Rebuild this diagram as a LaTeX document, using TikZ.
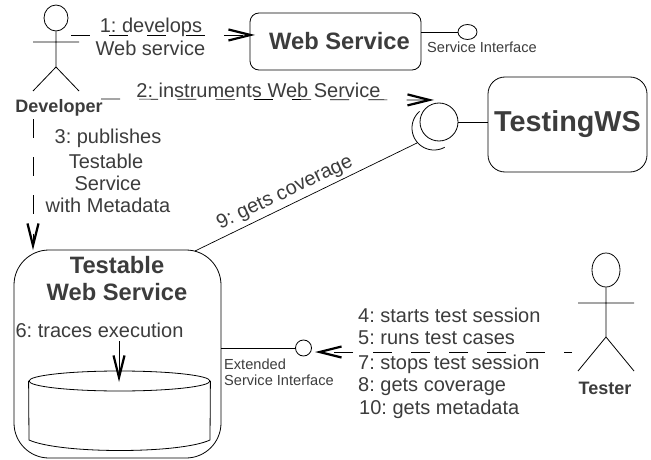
\documentclass[tikz,border=0pt]{standalone}
\usepackage{fontspec}
\setmainfont{Liberation Sans}
\usetikzlibrary{arrows.meta,shapes.geometric}
\definecolor{txt}{HTML}{3C3C3C}
\tikzset{
  every node/.style={execute at begin node=\frenchspacing},
  lbl/.style={inner sep=0pt,text=txt,font=\fontsize{20}{21}\selectfont},
  lblleft/.style={lbl,anchor=west},
  small/.style={inner sep=0pt,text=txt,anchor=west,font=\fontsize{14.6}{16}\selectfont},
  actorname/.style={inner sep=0pt,text=txt,font=\bfseries\fontsize{18}{20}\selectfont},
  boxtitle/.style={inner sep=0pt,text=txt,align=center,font=\bfseries\fontsize{23.7}{27}\selectfont},
  box/.style={draw=black,line width=.8pt,rounded corners=#1,inner sep=0pt,text=txt,align=center},
  elem/.style={draw=black,line width=.8pt},
  ball/.style={ellipse,draw=black,line width=.8pt,inner sep=0pt,fill=white},
  vhead/.style={-{Straight Barb[length=22pt,width=11pt,line width=2.2pt]}},
  msg/.style={line width=.7pt,vhead,dash pattern=on 19pt off 19.2pt},
}
\begin{document}
\begin{tikzpicture}[x=1pt,y=-1pt]
\useasboundingbox (0,0) rectangle (651,460);
% boxes
\node[box=9pt,minimum width=171pt,minimum height=57pt,boxtitle] (ws) at (335.5,41.5) {\hspace*{8pt}Web Service};
\node[box=17pt,minimum width=159pt,minimum height=95pt,font=\bfseries\fontsize{28.8}{30}\selectfont] (tws) at (567.5,124.5) {TestingWS};
\node[box=35pt,minimum width=207pt,minimum height=208pt] (tb) at (117.5,354) {};
\node[boxtitle] (tbt) at (117,278.5) {Testable\\Web Service};
% interfaces
\node[ball,minimum width=19pt,minimum height=15pt] (wsball) at (467.5,32) {};
\draw[elem] (wsball.west) -- (wsball.west -| ws.east);
\node[small] (wsi) at (427,47) {Service Interface};
\node[ball,minimum width=38pt,minimum height=38pt,fill=none] (sock) at (439,122) {};
\draw[elem] (sock.east) -- (sock.east -| tws.west);
\draw[elem] plot[domain=61:229,samples=40,smooth] ({434+22*cos(\x)},{128+22*sin(\x)});
\coordinate (c9a) at (195,251);
\coordinate (c9b) at (417,143);
\draw[line width=.7pt] (c9a) -- (c9b);
\node[lbl,rotate=25.5] (l9) at (285,193) {9: gets coverage};
\node[ball,minimum width=16pt,minimum height=16pt] (eball) at (303.5,348) {};
\draw[elem] (eball.west) -- (eball.west -| tb.east);
\node[small] (e1) at (224,364) {Extended};
\node[small] (e2) at (224,380) {Service Interface};
% database
\node[ellipse,draw=black,line width=.8pt,inner sep=0pt,minimum width=181pt,minimum height=20pt] (db) at (119.5,381) {};
\draw[elem] (db.west) -- (29,440) .. controls (60,454) and (180,454) .. (210,440) -- (db.east);
\node[lbl] (l6) at (99.5,330) {6: traces execution};
\coordinate (c6a) at (119,341);
\coordinate (c6b) at (119,382);
\draw[line width=.7pt,vhead] (c6a) -- (c6b);
% developer
\node[ellipse,elem,inner sep=0pt,minimum width=24pt,minimum height=26pt] (dh) at (56,18) {};
\coordinate (dhip) at (56,67);
\coordinate (dal) at (33,42);
\coordinate (dar) at (79,42);
\coordinate (dll) at (33,91);
\coordinate (dlr) at (79,91);
\draw[elem] (dh.south) -- (dhip) (dal) -- (dar) (dll) -- (dhip) -- (dlr);
\node[actorname] (dev) at (59,108) {Developer};
% tester
\node[ellipse,elem,inner sep=0pt,minimum width=28pt,minimum height=34pt] (th) at (606,270) {};
\coordinate (thip) at (606,337);
\coordinate (tal) at (578,303);
\coordinate (tar) at (634,303);
\coordinate (tll) at (578,371);
\coordinate (tlr) at (634,371);
\draw[elem] (th.south) -- (thip) (tal) -- (tar) (tll) -- (thip) -- (tlr);
\node[actorname] (tester) at (605,388) {Tester};
% messages
\coordinate (m1a) at (71,35);
\coordinate (m1b) at (255,35);
\draw[msg] (m1a) -- (m1b);
\node[lbl] (l1a) at (151,27) {1: develops};
\node[lbl] (l1b) at (150.5,48) {Web service};
\coordinate (m2a) at (101,99);
\coordinate (m2b) at (434,100);
\draw[msg] (m2a) -- (m2b);
\node[lbl] (l2) at (258.5,90) {2: instruments Web Service};
\coordinate (m3a) at (33,119);
\coordinate (m3b) at (33,250);
\draw[msg] (m3a) -- (m3b);
\node[lbl] (l3a) at (108,138) {3: publishes};
\node[lbl] (l3b) at (106,161) {Testable};
\node[lbl] (l3c) at (108,183) {Service};
\node[lbl] (l3d) at (108,205) {with Metadata};
\coordinate (m4a) at (572,352);
\coordinate (m4b) at (315,352);
\draw[line width=.7pt,vhead,dash pattern=on 19pt off 19.3pt,dash phase=11pt] (m4a) -- (m4b);
\node[lblleft] (l4) at (358,315) {4: starts test session};
\node[lblleft] (l5) at (358,338) {5: runs test cases};
\node[lblleft] (l7) at (358,364) {7: stops test session};
\node[lblleft] (l8) at (358,387) {8: gets coverage};
\node[lblleft] (l10) at (359,409) {10: gets metadata};
\end{tikzpicture}
\end{document}
